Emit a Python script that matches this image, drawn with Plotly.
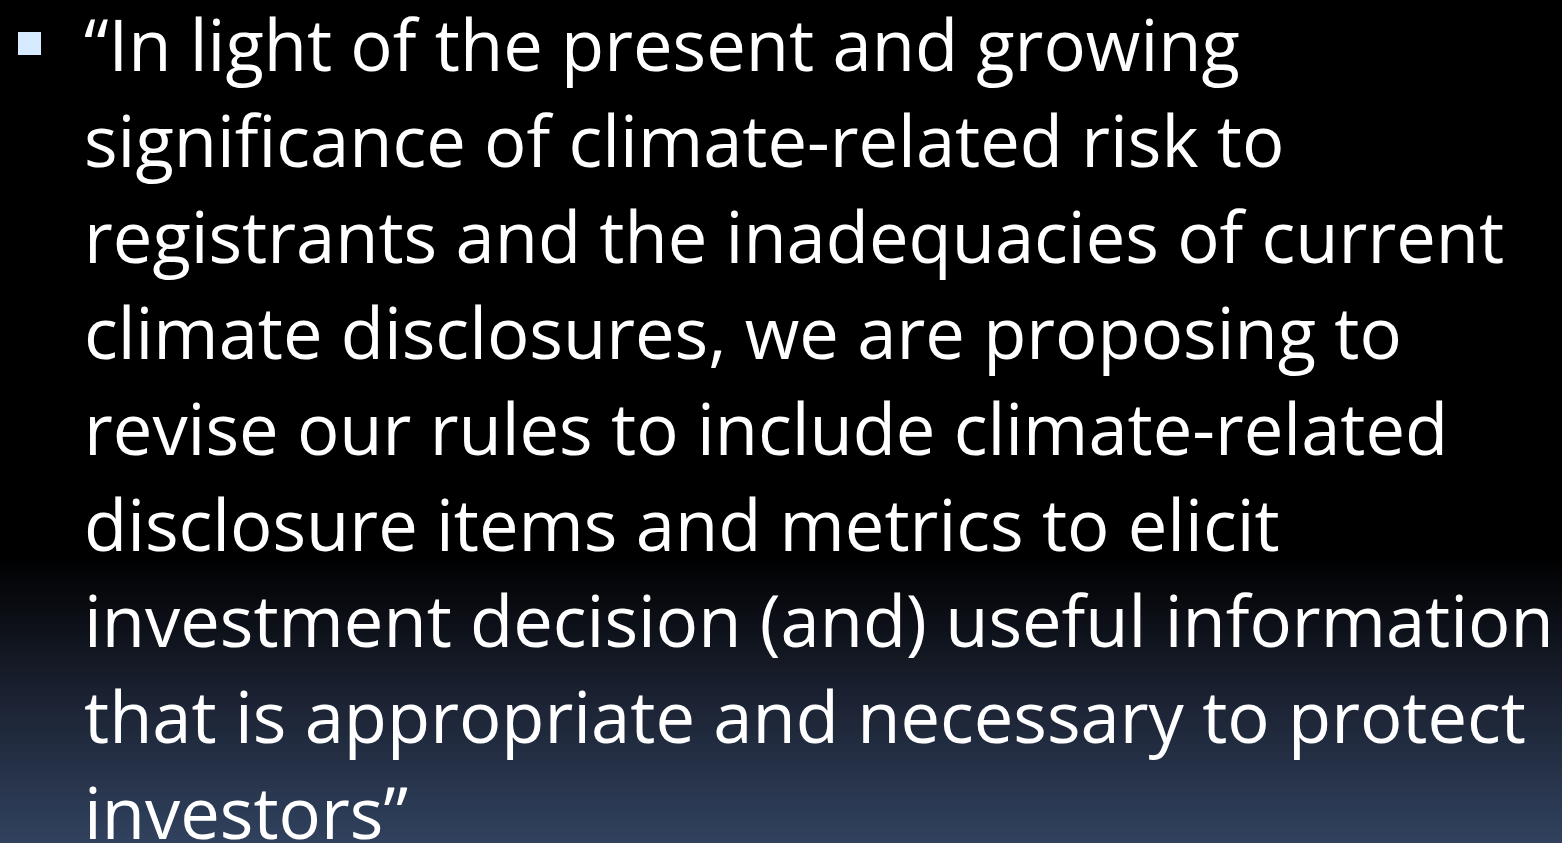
import plotly.graph_objects as go
import numpy as np

W, H = 1562, 843

lines = [
    "\u201cIn light of the present and growing",
    "significance of climate-related risk to",
    "registrants and the inadequacies of current",
    "climate disclosures, we are proposing to",
    "revise our rules to include climate-related",
    "disclosure items and metrics to elicit",
    "investment decision (and) useful information",
    "that is appropriate and necessary to protect",
    "investors\u201d",
]

# background gradient stops (fraction of height from top, colour)
grad_pos = [0.0, 0.66, 0.83, 1.0]
grad_col = ["#000000", "#000000", "#1b2232", "#31425f"]

rows = np.arange(0, H + 1, 3)
z = [[r / H, r / H] for r in rows]

fig = go.Figure()
fig.add_trace(go.Heatmap(
    x=[0, W], y=rows, z=z,
    colorscale=[[p, c] for p, c in zip(grad_pos, grad_col)],
    zmin=0, zmax=1, showscale=False, hoverinfo="skip",
))

x0 = 82
base0 = 75
step = 96.0
font_size = 70.5
for i, t in enumerate(lines):
    fig.add_annotation(
        x=x0, y=base0 + i * step, text=t, xref="x", yref="y",
        xanchor="left", yanchor="bottom", showarrow=False,
        font=dict(family="Open Sans", size=font_size, color="#ffffff"),
        yshift=-0.27 * font_size,
    )

fig.add_shape(type="rect", x0=18, x1=41, y0=32, y1=55, xref="x", yref="y",
              fillcolor="#d6ebff", line=dict(width=0))

fig.update_layout(
    width=W, height=H, margin=dict(l=0, r=0, t=0, b=0),
    paper_bgcolor="#000000", plot_bgcolor="#000000",
    xaxis=dict(range=[0, W], visible=False, fixedrange=True),
    yaxis=dict(range=[H, 0], visible=False, fixedrange=True),
    showlegend=False,
)
fig.write_html("out.html", config={"displayModeBar": False},
               post_script="document.body.style.margin='0';document.body.style.background='#000';")
